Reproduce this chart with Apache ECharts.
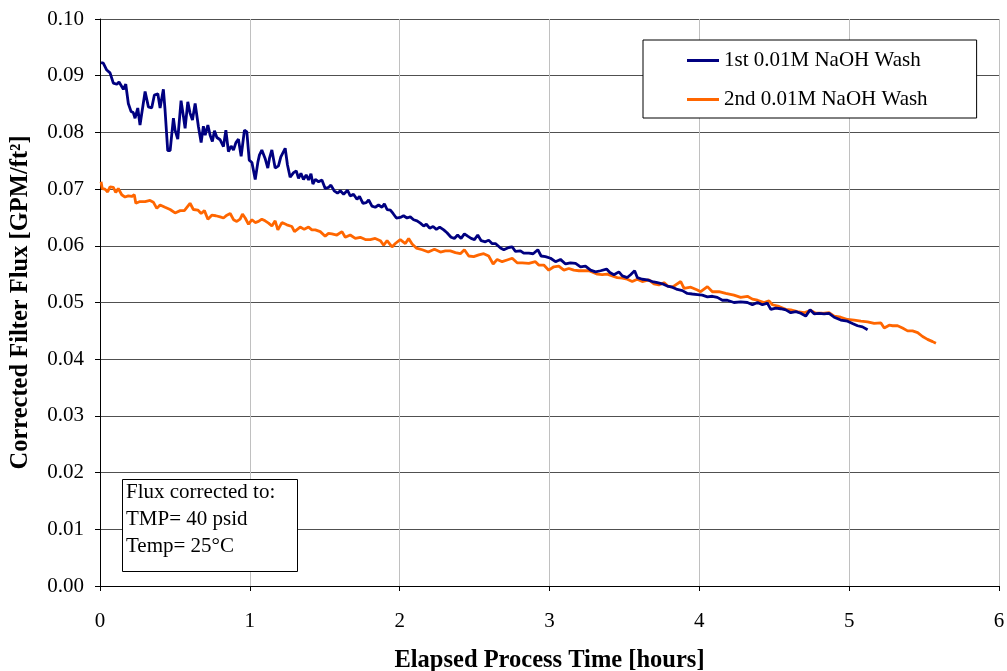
<!DOCTYPE html>
<html>
<head>
<meta charset="utf-8">
<script src="https://cdn.jsdelivr.net/npm/echarts@6/dist/echarts.min.js"></script>
<style>html,body{margin:0;padding:0;background:#fff}#c{width:1007px;height:671px}</style>
</head>
<body>
<div id="c"></div>
<script>
const seriesNames = ['1st 0.01M NaOH Wash', '2nd 0.01M NaOH Wash'];
const xTicks = [0, 1, 2, 3, 4, 5, 6];

const hours1 = [0.007,0.022,0.045,0.067,0.089,0.112,0.127,0.140,0.156,0.172,0.189,0.207,0.222,0.234,0.252,0.267,0.301,0.323,0.345,0.363,0.386,0.401,0.423,0.434,0.452,0.468,0.490,0.501,0.519,0.541,0.557,0.568,0.586,0.601,0.617,0.635,0.657,0.675,0.690,0.702,0.720,0.735,0.750,0.764,0.780,0.802,0.824,0.840,0.857,0.875,0.891,0.907,0.924,0.942,0.964,0.980,0.996,1.014,1.036,1.054,1.064,1.080,1.102,1.120,1.131,1.147,1.169,1.191,1.207,1.236,1.251,1.269,1.292,1.310,1.325,1.341,1.358,1.376,1.392,1.408,1.421,1.437,1.459,1.481,1.503,1.525,1.541,1.563,1.585,1.604,1.626,1.652,1.670,1.692,1.715,1.732,1.755,1.777,1.793,1.815,1.837,1.859,1.882,1.898,1.916,1.938,1.956,1.978,2.004,2.026,2.049,2.071,2.093,2.116,2.138,2.160,2.178,2.200,2.223,2.245,2.267,2.294,2.316,2.343,2.365,2.387,2.410,2.432,2.454,2.477,2.499,2.521,2.544,2.572,2.594,2.616,2.639,2.673,2.695,2.728,2.751,2.773,2.806,2.828,2.862,2.891,2.922,2.944,2.973,3.007,3.040,3.073,3.107,3.140,3.174,3.207,3.240,3.274,3.307,3.341,3.381,3.403,3.430,3.463,3.486,3.519,3.541,3.568,3.586,3.619,3.653,3.686,3.720,3.753,3.786,3.820,3.853,3.887,3.920,3.953,3.987,4.020,4.054,4.087,4.120,4.154,4.187,4.231,4.276,4.321,4.354,4.388,4.421,4.454,4.477,4.510,4.543,4.577,4.610,4.644,4.677,4.710,4.739,4.766,4.799,4.833,4.866,4.900,4.944,4.989,5.022,5.056,5.089,5.123];
const flux1 = [0.0923,0.0922,0.0910,0.0905,0.0887,0.0885,0.0889,0.0892,0.0876,0.0885,0.0851,0.0837,0.0835,0.0825,0.0843,0.0813,0.0872,0.0845,0.0843,0.0866,0.0868,0.0843,0.0876,0.0840,0.0768,0.0768,0.0825,0.0804,0.0788,0.0856,0.0828,0.0807,0.0854,0.0834,0.0822,0.0851,0.0810,0.0782,0.0811,0.0795,0.0813,0.0795,0.0784,0.0803,0.0791,0.0787,0.0775,0.0804,0.0766,0.0776,0.0769,0.0782,0.0788,0.0758,0.0804,0.0801,0.0751,0.0747,0.0717,0.0748,0.0760,0.0769,0.0754,0.0737,0.0754,0.0769,0.0737,0.0741,0.0757,0.0772,0.0743,0.0721,0.0729,0.0732,0.0719,0.0728,0.0717,0.0725,0.0716,0.0727,0.0709,0.0717,0.0713,0.0716,0.0701,0.0703,0.0707,0.0697,0.0693,0.0697,0.0691,0.0698,0.0688,0.0691,0.0682,0.0687,0.0675,0.0676,0.0681,0.0670,0.0668,0.0672,0.0668,0.0674,0.0664,0.0663,0.0657,0.0649,0.0650,0.0653,0.0649,0.0651,0.0646,0.0644,0.0640,0.0635,0.0638,0.0631,0.0634,0.0629,0.0633,0.0628,0.0623,0.0615,0.0613,0.0619,0.0613,0.0621,0.0617,0.0613,0.0611,0.0619,0.0609,0.0607,0.0610,0.0604,0.0604,0.0596,0.0593,0.0597,0.0598,0.0590,0.0591,0.0587,0.0587,0.0586,0.0593,0.0582,0.0581,0.0578,0.0572,0.0576,0.0568,0.0570,0.0569,0.0563,0.0564,0.0557,0.0554,0.0556,0.0559,0.0553,0.0549,0.0554,0.0547,0.0544,0.0549,0.0556,0.0544,0.0541,0.0540,0.0537,0.0535,0.0533,0.0529,0.0527,0.0523,0.0521,0.0516,0.0515,0.0514,0.0513,0.0510,0.0511,0.0509,0.0504,0.0504,0.0500,0.0501,0.0500,0.0496,0.0500,0.0496,0.0499,0.0488,0.0490,0.0489,0.0487,0.0482,0.0484,0.0481,0.0476,0.0487,0.0480,0.0481,0.0480,0.0481,0.0474,0.0469,0.0467,0.0463,0.0459,0.0457,0.0452];

const hours2 = [0.007,0.015,0.033,0.051,0.067,0.089,0.105,0.122,0.145,0.167,0.189,0.212,0.229,0.239,0.267,0.301,0.334,0.356,0.379,0.401,0.434,0.468,0.501,0.535,0.563,0.601,0.623,0.653,0.675,0.697,0.720,0.746,0.773,0.802,0.824,0.847,0.869,0.891,0.913,0.935,0.951,0.969,0.991,1.014,1.036,1.058,1.080,1.102,1.125,1.147,1.169,1.187,1.214,1.247,1.281,1.298,1.336,1.363,1.392,1.414,1.437,1.470,1.503,1.525,1.548,1.581,1.615,1.637,1.670,1.704,1.737,1.771,1.804,1.837,1.871,1.893,1.916,1.949,1.971,2.004,2.038,2.060,2.083,2.111,2.151,2.191,2.232,2.272,2.305,2.338,2.372,2.405,2.432,2.461,2.494,2.528,2.561,2.594,2.624,2.651,2.684,2.717,2.751,2.784,2.818,2.862,2.906,2.928,2.962,2.995,3.029,3.062,3.096,3.129,3.162,3.196,3.229,3.263,3.292,3.319,3.352,3.385,3.419,3.452,3.486,3.519,3.552,3.586,3.619,3.663,3.697,3.730,3.764,3.790,3.820,3.876,3.898,3.943,3.987,4.009,4.054,4.087,4.131,4.176,4.231,4.276,4.321,4.354,4.388,4.432,4.465,4.488,4.532,4.577,4.610,4.655,4.699,4.744,4.777,4.822,4.866,4.900,4.944,4.989,5.033,5.078,5.123,5.167,5.212,5.234,5.267,5.290,5.323,5.356,5.390,5.423,5.457,5.490,5.523,5.557,5.579];
const flux2 = [0.0713,0.0701,0.0700,0.0695,0.0704,0.0703,0.0694,0.0701,0.0690,0.0686,0.0688,0.0687,0.0690,0.0675,0.0678,0.0678,0.0680,0.0677,0.0666,0.0672,0.0668,0.0664,0.0658,0.0662,0.0662,0.0675,0.0664,0.0663,0.0657,0.0662,0.0647,0.0654,0.0653,0.0651,0.0649,0.0654,0.0657,0.0646,0.0643,0.0647,0.0656,0.0649,0.0638,0.0646,0.0641,0.0643,0.0647,0.0644,0.0640,0.0635,0.0644,0.0628,0.0641,0.0637,0.0634,0.0625,0.0633,0.0629,0.0633,0.0628,0.0628,0.0625,0.0617,0.0622,0.0621,0.0619,0.0625,0.0615,0.0619,0.0613,0.0615,0.0611,0.0611,0.0613,0.0609,0.0601,0.0609,0.0598,0.0604,0.0611,0.0604,0.0613,0.0603,0.0596,0.0593,0.0589,0.0594,0.0589,0.0591,0.0591,0.0588,0.0586,0.0593,0.0582,0.0581,0.0584,0.0586,0.0582,0.0568,0.0576,0.0572,0.0575,0.0578,0.0570,0.0570,0.0569,0.0572,0.0566,0.0566,0.0557,0.0563,0.0564,0.0557,0.0560,0.0557,0.0556,0.0556,0.0556,0.0553,0.0550,0.0549,0.0550,0.0547,0.0544,0.0543,0.0541,0.0537,0.0541,0.0537,0.0540,0.0533,0.0531,0.0535,0.0529,0.0527,0.0537,0.0525,0.0527,0.0522,0.0519,0.0528,0.0519,0.0519,0.0516,0.0513,0.0509,0.0511,0.0506,0.0504,0.0500,0.0503,0.0496,0.0493,0.0488,0.0487,0.0484,0.0482,0.0486,0.0481,0.0481,0.0482,0.0476,0.0474,0.0470,0.0469,0.0467,0.0466,0.0463,0.0464,0.0455,0.0460,0.0459,0.0459,0.0455,0.0450,0.0450,0.0447,0.0440,0.0435,0.0431,0.0428];

const noteLines = ['Flux corrected to:', 'TMP= 40 psid', 'Temp= 25°C'];

const pair = (xs, ys) => xs.map((x, i) => [x, ys[i]]);
const FONT = '"Liberation Serif", "Times New Roman", serif';

const chart = echarts.init(document.getElementById('c'), null, {renderer: 'canvas'});
chart.setOption({
  animation: false,
  backgroundColor: '#fff',
  textStyle: {fontFamily: FONT, color: '#000'},
  grid: {left: 100, right: 8, top: 19, bottom: 85, containLabel: false, outerBoundsMode: 'none'},
  xAxis: {
    type: 'value', min: xTicks[0], max: xTicks[xTicks.length - 1], interval: 1,
    name: 'Elapsed Process Time [hours]', nameLocation: 'middle', nameGap: 62,
    nameTextStyle: {fontFamily: FONT, fontWeight: 'bold', fontSize: 24.5, color: '#000'},
    axisLine: {onZero: false, lineStyle: {color: '#000', width: 1}},
    axisTick: {show: true, inside: false, length: 5, lineStyle: {color: '#000'}},
    axisLabel: {fontFamily: FONT, fontSize: 21, color: '#000', margin: 25},
    splitLine: {show: true, lineStyle: {color: '#c0c0c0', width: 1}}
  },
  yAxis: {
    type: 'value', min: 0, max: 0.1, interval: 0.01,
    name: 'Corrected Filter Flux [GPM/ft²]', nameLocation: 'middle', nameGap: 67,
    nameTextStyle: {fontFamily: FONT, fontWeight: 'bold', fontSize: 24.5, color: '#000'},
    axisLine: {show: true, lineStyle: {color: '#000', width: 1}},
    axisTick: {show: true, inside: false, length: 5, lineStyle: {color: '#000'}},
    axisLabel: {fontFamily: FONT, fontSize: 21, color: '#000', margin: 16,
      formatter: v => v.toFixed(2)},
    splitLine: {show: true, lineStyle: {color: '#505050', width: 1}}
  },
  legend: {
    show: true, orient: 'vertical', left: 643, top: 40,
    backgroundColor: '#fff', borderColor: '#000', borderWidth: 1,
    padding: [10, 49, 8, 44], itemGap: 18,
    itemWidth: 32, itemHeight: 3, icon: 'rect',
    textStyle: {fontFamily: FONT, fontSize: 21, color: '#000'},
    data: seriesNames
  },
  series: [
    {name: seriesNames[0], type: 'line', data: pair(hours1, flux1), showSymbol: false,
     symbol: 'none', lineStyle: {color: '#000080', width: 2.8}, itemStyle: {color: '#000080'}, z: 3},
    {name: seriesNames[1], type: 'line', data: pair(hours2, flux2), showSymbol: false,
     symbol: 'none', lineStyle: {color: '#ff6600', width: 2.8}, itemStyle: {color: '#ff6600'}, z: 2}
  ],
  graphic: [
    {type: 'rect', left: 122, top: 479, z: 10,
     shape: {width: 175, height: 92}, style: {fill: '#fff', stroke: '#000', lineWidth: 1}},
    {type: 'text', left: 126, top: 479, z: 11,
     style: {text: noteLines.join('\n'), font: '21px ' + FONT, fill: '#000', lineHeight: 27}}
  ]
});
</script>
</body>
</html>
